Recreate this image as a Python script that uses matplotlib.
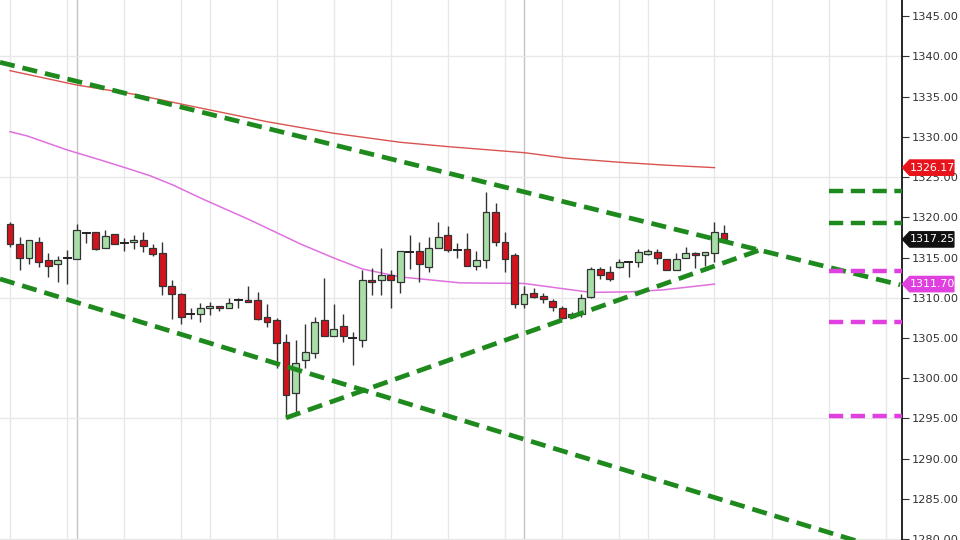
import matplotlib
matplotlib.use("Agg")
import matplotlib.pyplot as plt
from matplotlib.patches import Rectangle, Polygon
import matplotlib.transforms as mtransforms
import numpy as np

# ---- candle data (index 0..75) ----
opens = [1319.17, 1316.69, 1314.95, 1316.94, 1314.70, 1314.21, 1314.95, 1314.83, 1318.06, 1318.18,
         1316.19, 1317.93, 1316.81, 1316.94, 1317.19, 1316.19, 1315.57, 1311.47, 1310.48, 1307.99,
         1307.99, 1308.74, 1308.99, 1308.74, 1309.73, 1309.73, 1309.73, 1307.62, 1307.25, 1304.52,
         1298.18, 1302.28, 1303.15, 1307.25, 1305.26, 1306.50, 1305.01, 1304.77, 1312.22, 1312.22,
         1312.84, 1311.97, 1315.70, 1315.82, 1313.83, 1316.19, 1317.81, 1315.95, 1316.07, 1313.96,
         1314.70, 1320.67, 1316.94, 1315.32, 1309.24, 1310.60, 1310.23, 1309.61, 1308.74, 1307.62,
         1307.99, 1310.11, 1313.58, 1313.21, 1313.83, 1314.45, 1314.45, 1315.45, 1315.70, 1314.83,
         1313.46, 1314.95, 1315.57, 1315.32, 1315.57, 1318.06]
highs = [1319.42, 1317.56, 1317.19, 1317.56, 1315.57, 1315.20, 1315.95, 1319.17, 1318.18, 1318.18,
         1318.43, 1317.93, 1317.44, 1317.81, 1318.18, 1316.69, 1316.94, 1312.22, 1310.60, 1308.74,
         1309.36, 1309.49, 1308.99, 1309.98, 1309.98, 1311.47, 1310.73, 1309.24, 1307.50, 1305.51,
         1304.77, 1306.75, 1307.62, 1312.47, 1309.24, 1307.99, 1305.76, 1313.46, 1313.71, 1316.19,
         1313.46, 1315.82, 1317.81, 1316.94, 1317.56, 1319.42, 1318.93, 1316.81, 1318.06, 1315.82,
         1323.15, 1321.78, 1318.18, 1315.57, 1311.47, 1311.22, 1310.60, 1309.86, 1308.99, 1308.24,
         1310.48, 1313.83, 1313.83, 1313.96, 1314.83, 1314.58, 1316.07, 1316.07, 1316.07, 1314.83,
         1315.57, 1316.32, 1315.70, 1315.70, 1319.42, 1319.05]
lows = [1316.32, 1313.46, 1314.21, 1313.83, 1312.59, 1311.97, 1311.72, 1314.83, 1316.81, 1315.95,
        1316.19, 1316.69, 1315.82, 1316.07, 1315.70, 1315.20, 1310.36, 1307.37, 1306.75, 1307.37,
        1307.00, 1307.87, 1308.37, 1308.74, 1308.74, 1309.49, 1307.25, 1306.38, 1301.29, 1295.08,
        1295.82, 1301.29, 1302.53, 1305.26, 1305.26, 1304.52, 1301.66, 1303.90, 1310.36, 1310.36,
        1308.74, 1310.60, 1313.58, 1311.97, 1313.21, 1316.19, 1315.70, 1314.95, 1313.96, 1313.46,
        1313.71, 1316.44, 1313.21, 1308.74, 1308.74, 1309.98, 1309.36, 1308.37, 1307.37, 1307.50,
        1307.62, 1309.98, 1312.34, 1312.09, 1313.71, 1312.59, 1313.83, 1315.32, 1314.21, 1313.46,
        1313.46, 1314.95, 1313.71, 1313.96, 1314.45, 1317.19]
closes = [1316.69, 1314.95, 1317.19, 1314.45, 1313.96, 1314.70, 1314.95, 1318.43, 1318.06, 1316.07,
          1317.68, 1316.69, 1316.81, 1317.19, 1316.44, 1315.45, 1311.47, 1310.48, 1307.62, 1307.99,
          1308.74, 1308.99, 1308.74, 1309.36, 1309.73, 1309.49, 1307.37, 1307.00, 1304.39, 1297.93,
          1301.91, 1303.27, 1307.00, 1305.26, 1306.13, 1305.26, 1305.01, 1312.22, 1311.97, 1312.84,
          1312.22, 1315.82, 1315.70, 1314.21, 1316.19, 1317.56, 1315.95, 1315.95, 1313.96, 1314.70,
          1320.67, 1316.94, 1314.83, 1309.24, 1310.48, 1310.11, 1309.86, 1308.86, 1307.50, 1307.99,
          1309.98, 1313.58, 1312.84, 1312.34, 1314.45, 1314.45, 1315.70, 1315.82, 1314.95, 1313.46,
          1314.83, 1315.57, 1315.32, 1315.70, 1318.18, 1317.25]

# ---- moving averages (read at sample indices) ----
ma_red_idx = [0, 7, 13, 20, 27, 34, 41, 46, 54, 58.5, 64, 69, 74]
ma_red_val = [1338.22, 1336.44, 1335.29, 1333.58, 1331.88, 1330.44, 1329.32, 1328.78,
              1328.03, 1327.34, 1326.84, 1326.47, 1326.17]
ma_mag_idx = [0, 1.8, 6, 9.5, 12.3, 14.7, 17.1, 20.3, 25.2, 30.5, 34, 37, 41, 47.3,
              54, 57.5, 61, 65, 68.6, 74]
ma_mag_val = [1330.64, 1330.11, 1328.37, 1327.12, 1326.09, 1325.17, 1324.02, 1322.24,
              1319.67, 1316.69, 1314.95, 1313.58, 1312.59, 1311.85, 1311.78, 1311.22,
              1310.67, 1310.73, 1310.98, 1311.70]

# ---- trend lines (index, price endpoints) ----
trend_upper = [(-1.05, 1339.26), (93.5, 1311.60)]
trend_lower = [(-1.05, 1312.34), (93.5, 1278.13)]
trend_rising = [(29.0, 1295.08), (79.0, 1316.03)]

# ---- horizontal levels on the right ----
levels_green = [1323.25, 1319.30]
levels_magenta = [1313.35, 1307.05, 1295.25]
level_start, level_end = 86.0, 93.8

# ---- price tags ----
tag_values = [1326.17, 1317.25, 1311.70]
tag_labels = ["1326.17", "1317.25", "1311.70"]
tag_colors = ["#e8141c", "#111111", "#e040e0"]

# ---- axis ----
ytick_vals = list(range(1280, 1350, 5))
hgrid_vals = [1280, 1295, 1310, 1325, 1340]
vgrid_idx = [0, 6, 12, 18, 21, 28, 34, 40, 46, 52, 58, 64, 67, 74, 80, 86, 92]
vgrid_dark = [7, 54]

fig = plt.figure(figsize=(9.6, 5.4), dpi=100)
ax = fig.add_axes([0, 0, 902 / 960, 1])
ax.set_xlim(-1.05, 93.7)
ax.set_ylim(1279.9, 1347.0)

for g in vgrid_idx:
    ax.axvline(g, color="#e8e8e8", lw=1, zorder=0)
for g in vgrid_dark:
    ax.axvline(g, color="#c4c4c4", lw=1, zorder=0)
for g in hgrid_vals:
    ax.axhline(g, color="#e8e8e8", lw=1, zorder=0)

# moving averages
ax.plot(ma_red_idx, ma_red_val, color="#d9534f", lw=1, zorder=2)
ax.plot(ma_mag_idx, ma_mag_val, color="#e070e0", lw=1.1, zorder=2)

# candles
w = 0.72
for i, (o, h, l, c) in enumerate(zip(opens, highs, lows, closes)):
    ax.plot([i, i], [l, h], color="#333333", lw=1, zorder=3, solid_capstyle="butt")
    if abs(c - o) < 0.05:
        ax.plot([i - w / 2, i + w / 2], [o, o], color="#222222", lw=1.4, zorder=4)
        continue
    col = "#a8dea8" if c > o else "#d2141e"
    ax.add_patch(Rectangle((i - w / 2, min(o, c)), w, abs(c - o), facecolor=col,
                           edgecolor="#333333", lw=0.9, zorder=4))

# trend lines
tl_kw = dict(color="#1e8a1e", lw=3.4, dashes=(3.2, 1.7), zorder=5, solid_capstyle="butt")
for seg in (trend_upper, trend_lower, trend_rising):
    ax.plot([seg[0][0], seg[1][0]], [seg[0][1], seg[1][1]], **tl_kw)

for v in levels_green:
    ax.plot([level_start, level_end], [v, v], color="#1e8a1e", lw=3.2, dashes=(3.2, 1.7), zorder=5)
for v in levels_magenta:
    ax.plot([level_start, level_end], [v, v], color="#e040e0", lw=3.2, dashes=(3.2, 1.7), zorder=5)

# axes styling
for s in ("top", "left", "bottom"):
    ax.spines[s].set_visible(False)
ax.spines["right"].set_color("#000000")
ax.spines["right"].set_linewidth(1.2)
ax.set_xticks([])
ax.yaxis.tick_right()
ax.set_yticks(ytick_vals)
ax.set_yticklabels([f"{v:.2f}" for v in ytick_vals])
ax.tick_params(axis="y", direction="out", length=5, width=0.8, colors="#333333",
               labelsize=8.2, pad=2)
for t in ax.get_yticklabels():
    t.set_color("#333333")

# price tags
trans = mtransforms.blended_transform_factory(ax.transAxes, ax.transData)
x_tip = 1.0005
x_l = 1.0085
x_r = 1.0575
hh = 0.95
for v, lab, col in zip(tag_values, tag_labels, tag_colors):
    poly = Polygon([(x_tip, v), (x_l, v + hh), (x_r, v + hh), (x_r, v - hh), (x_l, v - hh)],
                   closed=True, transform=trans, facecolor=col, edgecolor=col,
                   clip_on=False, zorder=10)
    ax.add_patch(poly)
    ax.text((x_l + x_r) / 2 + 0.001, v, lab, transform=trans, color="white", fontsize=7.9,
            ha="center", va="center", zorder=11, clip_on=False)

fig.savefig("out.png", dpi=100)
